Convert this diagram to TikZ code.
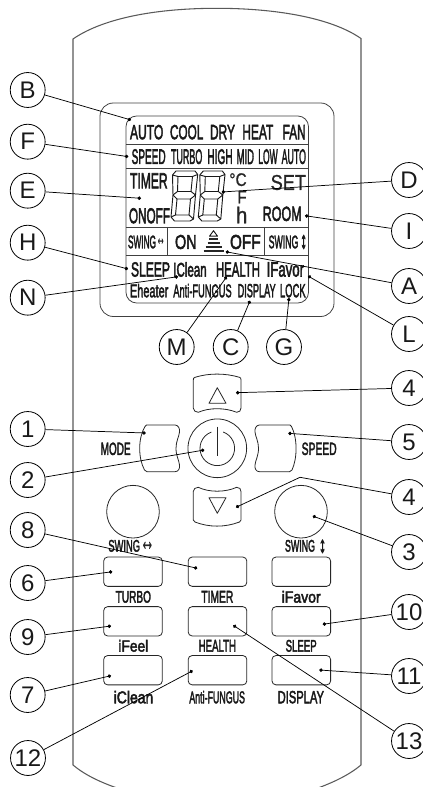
\documentclass[tikz,border=0pt]{standalone}
\usepackage{fontspec}
\usepackage{graphicx}
\setmainfont{Liberation Sans}
\newfontfamily\lblfont{Liberation Sans}
\newfontfamily\labfont[FakeBold=3]{Liberation Sans}
\newfontfamily\midfont[FakeBold=1]{Liberation Sans}
\usetikzlibrary{arrows.meta}
\tikzset{
  body/.style={draw=black!65,line width=0.8pt},
  panel/.style={draw=black!75,line width=0.6pt},
  key/.style={draw=black!85,line width=0.6pt},
  tag/.style={draw=black,circle,line width=0.6pt,minimum size=26.2pt,inner sep=0pt,font=\lblfont\fontsize{18}{18}\selectfont,text=black!90},
  lead/.style={draw=black,line width=0.55pt,-{Circle[length=2.6pt,width=2.6pt]}},
  btn/.style={key,rounded corners=3pt,minimum width=44pt,minimum height=22pt,inner sep=0pt},
  seg/.style={draw=black!90,line width=0.7pt,line join=round},
  lab/.style={inner sep=0pt,text=black!90,font=\labfont},
  thinlab/.style={inner sep=0pt,text=black!85,font=\midfont},
}
\newcommand\zoff{60}
\newcommand\T[7][lab]{%
  \pgfmathsetlengthmacro\tw{(#4-#3)/3*0.75pt}%
  \pgfmathsetlengthmacro\th{(#6-#5)/3*0.75pt}%
  \pgfmathsetmacro\tx{(#3+#4)/6}%
  \pgfmathsetmacro\ty{\zoff+(#5+#6)/6}%
  \node[#1] (#2) at (\tx,\ty) {\resizebox{\tw}{\th}{#7}};}
\newcommand\lcddigit[1]{%
  \begin{scope}[shift={(#1,165)}]
    \draw[seg] (11,6)--(30,6)--(32.7,9.5)--(30.5,30)--(28.5,54)--(25,56)--(9.5,56)--(6,52)--(8,30)--(7.5,10)--cycle;
    \draw[seg] (13,11.5)--(27.5,11.5)--(26,26.5)--(12.5,26.5)--cycle;
    \draw[seg] (12,34)--(25.5,34)--(24,50)--(10.5,50)--cycle;
    \draw[seg] (7.5,10)--(13,11.5) (32.7,9.5)--(27.5,11.5) (8,30)--(12.5,26.5) (8,30)--(12,34)
      (30.5,30)--(26,26.5) (30.5,30)--(25.5,34) (6,52)--(10.5,50) (28.5,54)--(24,50);
  \end{scope}}
\begin{document}
\begin{tikzpicture}[x=0.75pt,y=-0.75pt]
\useasboundingbox (0,0) rectangle (423,787);
\begin{scope}
\clip (0,0) rectangle (423,787);
\draw[body] (117,788) .. controls (100,782) and (85,775) .. (73,765) -- (73,39)
  .. controls (105,17) and (160,8.3) .. (216.7,8.3) .. controls (273,8.3) and (330,17) .. (361,38.5)
  -- (361,765) .. controls (349,775) and (334,782) .. (318,788);
\end{scope}
% screen
\draw[panel,rounded corners=10pt] (100,103) rectangle (334,316.5);
\draw[panel,rounded corners=8pt] (126,116) rectangle (308.5,303);
\draw[panel] (126,144.3)--(308.5,144.3) (126,168.3)--(308.5,168.3) (126,227)--(308.5,227) (126,255)--(308.5,255)
  (167,227)--(167,255) (264,227)--(264,255);
\T{tAuto}{390}{490}{195}{238}{AUTO}
\T{tCool}{510}{610}{195}{238}{COOL}
\T{tDry}{630}{705}{195}{238}{DRY}
\T{tHeat}{727}{820}{195}{238}{HEAT}
\T{tFan}{848}{917}{195}{238}{FAN}
\T{tSpeed}{395}{497}{268}{312}{SPEED}
\T{tTurbo}{513}{607}{268}{312}{TURBO}
\T{tHigh}{622}{698}{268}{312}{HIGH}
\T{tMid}{710}{762}{268}{312}{MID}
\T{tLow}{775}{833}{268}{312}{LOW}
\T{tAutoB}{845}{918}{268}{312}{AUTO}
\T{tTimer}{390}{503}{340}{385}{TIMER}
\T{tOnoff}{387}{510}{445}{490}{ONOFF}
\T[thinlab]{tC}{688}{740}{340}{378}{°C}
\T[thinlab]{tF}{712}{740}{393}{430}{F}
\T[thinlab]{th}{708}{742}{440}{490}{h}
\T[thinlab]{tSet}{812}{918}{345}{390}{SET}
\T{tRoom}{788}{905}{440}{483}{ROOM}
\T{tSwA}{384}{468}{527}{565}{SWING}
\T[thinlab]{tSwAa}{469}{495}{536}{554}{↔}
\T{tOn}{525}{590}{525}{567}{ON}
\T{tOff}{690}{782}{525}{567}{OFF}
\T{tSwB}{806}{895}{527}{565}{SWING}
\T{tSwBa}{901}{921}{526}{566}{↕}
\T{tSleep}{393}{510}{607}{650}{SLEEP}
\T{tIClean}{520}{620}{607}{650}{IClean}
\T{tHealth}{648}{780}{607}{650}{HEALTH}
\T{tIFavor}{800}{912}{607}{650}{IFavor}
\T{tEheater}{390}{505}{672}{712}{Eheater}
\T{tAnti}{520}{695}{672}{712}{Anti-FUNGUS}
\T{tDisp}{713}{827}{672}{712}{DISPLAY}
\T{tLock}{840}{917}{672}{712}{LOCK}
\lcddigit{165}
\lcddigit{192.3}
% fan triangle
\draw[seg] (213.5,230.7)--(209.5,236.2)--(217.5,236.2)--cycle;
\draw[black!85,line width=1pt] (209,239)--(218,239) (207.5,243)--(219.5,243) (205.5,247)--(221.5,247) (203.5,251)--(223.5,251);
% direction keys
\draw[key] (195,377.3) .. controls (209,373) and (225,373) .. (239.5,377.3)
  .. controls (240.7,377.6) and (241,378.5) .. (241,380) -- (241,408)
  .. controls (241,410.5) and (239.5,412.3) .. (236.7,412.3)
  .. controls (225,407.5) and (209,407.5) .. (198.3,412.3)
  .. controls (195.5,412.3) and (193.3,410.5) .. (193.3,408) -- (193.3,380)
  .. controls (193.3,378.5) and (193.7,377.6) .. (195,377.3) -- cycle;
\draw[key,line join=round] (217.3,387.7)--(209,403.3)--(226,403.3)--cycle;
\draw[key] (198.3,487.3) .. controls (209,492.5) and (225,492.5) .. (236.7,487.3)
  .. controls (239.5,487.3) and (241,489) .. (241,491.5) -- (241,520)
  .. controls (241,521) and (240.5,521.6) .. (239.5,522)
  .. controls (225,527.5) and (209,527.5) .. (195,522)
  .. controls (194,521.6) and (193.3,521) .. (193.3,520) -- (193.3,491.5)
  .. controls (193.3,489) and (195.5,487.3) .. (198.3,487.3) -- cycle;
\draw[key,line join=round] (209,497.7)--(226,497.7)--(217.3,513.3)--cycle;
% mode and speed keys
\draw[key] (146.5,425)--(175,425) .. controls (178.5,425) and (180,429) .. (179.5,432)
  .. controls (179,437) and (176,441) .. (176,448.3)
  .. controls (176,456) and (179,460) .. (179.5,465)
  .. controls (180,468.5) and (178.5,471.7) .. (175,471.7) -- (147,471.7)
  .. controls (146,471.7) and (145,471) .. (144.5,470)
  .. controls (138,458) and (138,438) .. (145,426.5)
  .. controls (145.3,425.5) and (146,425) .. (146.5,425) -- cycle;
\draw[key] (290,425)--(259.5,425) .. controls (256,425) and (254.5,429) .. (255,432)
  .. controls (255.5,437) and (258.5,441) .. (258.5,448.3)
  .. controls (258.5,456) and (255.5,460) .. (255,465)
  .. controls (254.5,468.5) and (256,471.7) .. (259.5,471.7) -- (289.5,471.7)
  .. controls (290.5,471.7) and (291.5,471) .. (292,470)
  .. controls (297.5,458) and (297.5,438) .. (291.5,426.5)
  .. controls (291.2,425.5) and (290.5,425) .. (290,425) -- cycle;
% power key
\node[key,circle,minimum size=44pt,inner sep=0pt] (power) at (217.3,448.3) {};
\draw[key] (power.center) ++(-70:17.3) arc[start angle=-70,end angle=250,radius=17.3];
\draw[key] (217.3,426.7)--(217.3,455.7);
% swing keys
\node[key,circle,minimum size=39.5pt,inner sep=0pt] (swingL) at (133,511.7) {};
\node[key,circle,minimum size=39.5pt,inner sep=0pt] (swingR) at (301,511.7) {};
% rows of keys
\node[btn] (bTurbo) at (133,571.7) {};
\node[btn] (bTimer) at (217.5,571.7) {};
\node[btn] (bFavor) at (301.3,571.7) {};
\node[btn] (bFeel) at (133,621.3) {};
\node[btn] (bHealth) at (217.5,621.3) {};
\node[btn] (bSleep) at (301.3,621.3) {};
\node[btn] (bClean) at (133,670.2) {};
\node[btn] (bAnti) at (217.5,670.2) {};
\node[btn] (bDisp) at (301.3,670.2) {};
\renewcommand\zoff{390}
\T{kMode}{302}{392}{158}{195}{MODE}
\T{kSpeed}{905}{1010}{158}{195}{SPEED}
\T{kSwA}{325}{420}{450}{485}{SWING}
\T[thinlab]{kSwAa}{421}{463}{456}{480}{↔}
\T{kSwB}{855}{945}{450}{485}{SWING}
\T{kSwBa}{957}{978}{450}{488}{↕}
\T{kTurbo}{347}{453}{603}{638}{TURBO}
\T{kTimer}{604}{700}{603}{638}{TIMER}
\T{kFavor}{845}{962}{603}{638}{iFavor}
\T{kFeel}{355}{445}{750}{785}{iFeel}
\T{kHealth}{596}{708}{750}{785}{HEALTH}
\T{kSleep}{857}{950}{750}{785}{SLEEP}
\T{kClean}{341}{460}{903}{940}{iClean}
\T{kAnti}{568}{735}{903}{940}{Anti-FUNGUS}
\T{kDisp}{833}{972}{903}{940}{DISPLAY}
% tags
\node[tag] (B) at (27.7,90) {B};
\node[tag] (F) at (27.7,141.7) {F};
\node[tag] (E) at (27.7,190.7) {E};
\node[tag] (H) at (27.7,242.7) {H};
\node[tag] (N) at (27.7,297.7) {N};
\node[tag] (M) at (176.7,347) {M};
\node[tag] (C) at (230.7,347) {C};
\node[tag] (G) at (284,347) {G};
\node[tag] (D) at (409,180) {D};
\node[tag] (I) at (409,231) {I};
\node[tag] (A) at (409,286) {A};
\node[tag] (L) at (409,334) {L};
\node[tag] (n4a) at (409,388) {4};
\node[tag] (n1) at (27.7,429) {1};
\node[tag] (n2) at (27.7,480) {2};
\node[tag] (n8) at (27.7,530) {8};
\node[tag] (n6) at (27.7,583) {6};
\node[tag] (n9) at (27.7,637) {9};
\node[tag] (n7) at (27.7,695) {7};
\node[tag] (n12) at (28,758) {12};
\node[tag] (n5) at (409,442) {5};
\node[tag] (n4b) at (409,497) {4};
\node[tag] (n3) at (409,552) {3};
\node[tag] (n10) at (409,612) {10};
\node[tag] (n11) at (409,676) {11};
\node[tag] (n13) at (409,741) {13};
% connector ends
\coordinate (eB) at (131,120);
\coordinate (eF) at (128.3,156.7);
\coordinate (eE) at (141,198.3);
\coordinate (eH) at (128,269);
\coordinate (eN) at (178,276.7);
\coordinate (eM) at (226.7,276.7);
\coordinate (eC) at (250,300.7);
\coordinate (eG) at (289,298);
\coordinate (eD) at (221.7,192);
\coordinate (eI) at (305,215.7);
\coordinate (eA) at (225.7,251.7);
\coordinate (eL) at (308,276);
\coordinate (e4a) at (236,392.7);
\coordinate (e1) at (145.7,433);
\coordinate (e2) at (204.3,450);
\coordinate (e5) at (288.3,433.3);
\coordinate (e4b) at (236,507.3);
\coordinate (k4b) at (300,477.3);
\coordinate (e3) at (312.7,516);
\coordinate (e8) at (197.3,568.3);
\coordinate (e6) at (112.3,571.7);
\coordinate (e9) at (111,626);
\coordinate (e10) at (322.7,624.3);
\coordinate (e7) at (111,675.7);
\coordinate (e11) at (319.3,670);
\coordinate (e12) at (192.7,670.7);
\coordinate (e13) at (233.3,625.3);
\foreach \a/\b in {B/eB,F/eF,E/eE,H/eH,N/eN,M/eM,C/eC,G/eG,D/eD,I/eI,A/eA,L/eL,n4a/e4a,n1/e1,n2/e2,n5/e5,n3/e3,n8/e8,n6/e6,n9/e9,n10/e10,n7/e7,n11/e11,n12/e12,n13/e13}
  \draw[lead] (\a) -- (\b);
\draw[lead] (n4b) -- (k4b) -- (e4b);
\end{tikzpicture}
\end{document}
